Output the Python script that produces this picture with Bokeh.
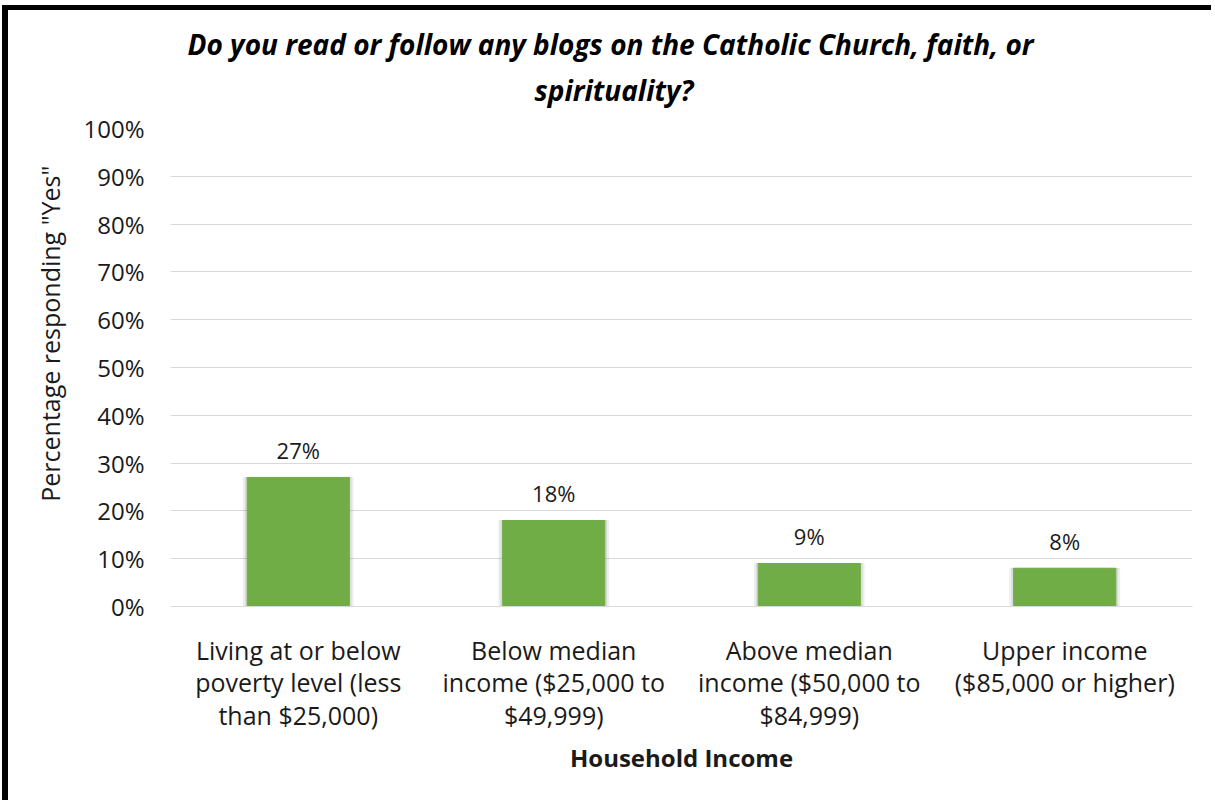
from bokeh.plotting import figure
from bokeh.models import FactorRange, NumeralTickFormatter, Title, ColumnDataSource, FixedTicker
from bokeh.core.properties import value
from bokeh.embed import file_html
from bokeh.resources import INLINE

categories = ["Living at or below\npoverty level (less\nthan $25,000)",
              "Below median\nincome ($25,000 to\n$49,999)",
              "Above median\nincome ($50,000 to\n$84,999)",
              "Upper income\n($85,000 or higher)"]
values = [0.27, 0.18, 0.09, 0.08]
labels = ["27%", "18%", "9%", "8%"]
y_ticks = [0, 0.1, 0.2, 0.3, 0.4, 0.5, 0.6, 0.7, 0.8, 0.9, 1.0]
title_line1 = "Do you read or follow any blogs on the Catholic Church, faith, or"
title_line2 = "spirituality?"
y_title = 'Percentage responding "Yes"'
x_title = "Household Income"

FONT = "Open Sans"
TXT = "#1a1a1a"
src = ColumnDataSource(dict(x=categories, top=values, lab=labels))

p = figure(width=1209, height=795, x_range=FactorRange(*categories), y_range=(0, 1),
           output_backend="svg", toolbar_location=None,
           min_border_left=162, min_border_right=25, min_border_top=118, min_border_bottom=199)
p.styles = {"border-left": "6px solid black", "border-top": "5px solid black",
            "margin-top": "5px", "margin-left": "2px"}
p.outline_line_color = None
p.background_fill_color = "white"
p.border_fill_color = "white"

# soft shadow behind bars
p.vbar(x="x", top="top", width=0.43, source=src, color="#000000", alpha=0.05)
p.vbar(x="x", top="top", width=0.415, source=src, color="#000000", alpha=0.07)
p.vbar(x="x", top="top", width=0.4, source=src, color="#70AD47")
p.text(x="x", y="top", text="lab", source=src, text_align="center", text_baseline="bottom",
       y_offset=-12, text_font=value(FONT), text_font_size="22px", text_color=TXT)

p.ygrid.grid_line_color = "#D9D9D9"
p.xgrid.grid_line_color = None
p.yaxis.ticker = FixedTicker(ticks=y_ticks)
p.yaxis.formatter = NumeralTickFormatter(format="0%")
p.yaxis.axis_line_color = None
p.yaxis.major_tick_line_color = None
p.yaxis.minor_tick_line_color = None
p.yaxis.major_label_text_font = FONT
p.yaxis.major_label_text_font_size = "24px"
p.yaxis.major_label_text_color = TXT
p.yaxis.major_label_standoff = 20

p.add_layout(Title(text=y_title, align="right", offset=37, text_font=FONT, text_font_size="25px",
                   text_font_style="normal", text_color=TXT, standoff=27), "left")

p.xaxis.axis_line_color = "#D9D9D9"
p.xaxis.major_tick_line_color = None
p.xaxis.major_label_text_font = FONT
p.xaxis.major_label_text_font_size = "25px"
p.xaxis.major_label_text_line_height = 0.97
p.xaxis.major_label_text_color = TXT
p.xaxis.major_label_standoff = 20
p.xaxis.axis_label = x_title
p.xaxis.axis_label_text_font = FONT
p.xaxis.axis_label_text_font_size = "24px"
p.xaxis.axis_label_text_font_style = "bold"
p.xaxis.axis_label_text_color = TXT
p.xaxis.axis_label_standoff = 6

p.add_layout(Title(text=title_line2, align="left", offset=364, text_font=FONT, text_font_size="28px",
                   text_font_style="bold italic", text_color="black", text_line_height=0.944,
                   standoff=40), "above")
p.add_layout(Title(text=title_line1, align="left", offset=17, text_font=FONT, text_font_size="28px",
                   text_font_style="bold italic", text_color="black", text_line_height=0.944,
                   standoff=-29), "above")

open("out.html", "w").write(file_html(p, INLINE))
